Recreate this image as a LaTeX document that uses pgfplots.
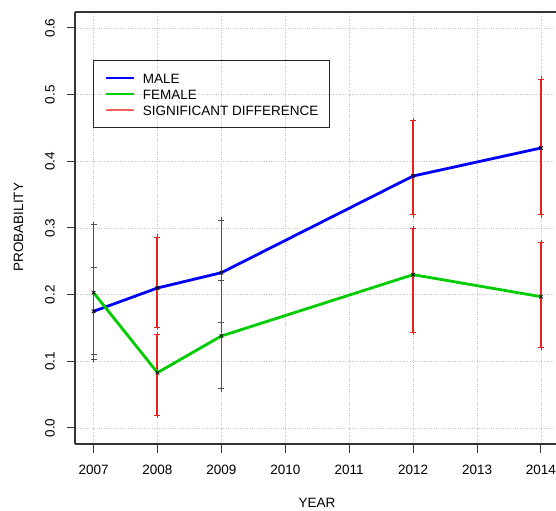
\documentclass[border=0pt]{standalone}
\usepackage{pgfplots}
\pgfplotsset{compat=1.18}
\usepackage{fontspec}
\setmainfont{Liberation Sans}
\definecolor{rblue}{RGB}{0,0,255}
\definecolor{rgreen}{RGB}{0,205,0}
\definecolor{rred}{RGB}{238,30,30}
\definecolor{cigrey}{RGB}{80,80,80}
\pgfplotsset{
  cibar/.style={line width=1.1bp, mark=+, mark size=3bp,
    mark options={line width=0.9bp}, forget plot},
  cinotsig/.style={cibar, color=cigrey},
  cisig/.style={cibar, color=rred, line width=2bp},
}
\begin{document}
\begin{tikzpicture}
\begin{axis}[
  set layers=standard,
  scale only axis, width=481bp, height=432bp,
  xmin=2006.71, xmax=2014.235, ymin=-0.024, ymax=0.624,
  axis x line*=box, axis y line*=left,
  axis line style={black!80, line width=1.1bp},
  xtick={2007,2008,2009,2010,2011,2012,2013,2014},
  xticklabels={2007,2008,2009,2010,2011,2012,2013,2014},
  ytick={0,0.1,0.2,0.3,0.4,0.5,0.6},
  yticklabels={0.0,0.1,0.2,0.3,0.4,0.5,0.6},
  xtick pos=left, ytick pos=left,
  tick align=outside, major tick length=8.5bp,
  tick style={black!80, line width=1bp},
  grid=major, major grid style={black!22, dotted, line width=0.8bp},
  font=\fontsize{13.5bp}{16bp}\selectfont,
  yticklabel style={rotate=90, anchor=south, inner xsep=0pt, inner ysep=11.5bp},
  xticklabel style={anchor=north, inner xsep=0pt, inner ysep=12.5bp},
  xlabel={YEAR}, ylabel={PROBABILITY},
  xlabel style={at={(axis description cs:0.503,-0.1366)}, anchor=center, inner sep=0pt},
  ylabel style={at={(axis description cs:-0.1177,0.502)}, anchor=center, inner sep=0pt},
  legend style={at={(axis description cs:0.0374,0.8889)}, anchor=north west,
    draw=black!85, line width=1.1bp, fill=none,
    inner xsep=11.5bp, inner ysep=12.5bp, row sep=6bp, column sep=7bp,
    nodes={inner sep=0pt, text height=10bp, text depth=0pt},
    font=\fontsize{13.5bp}{16bp}\selectfont},
  legend cell align=left,
  legend image code/.code={\draw[#1] (0bp,0bp) -- (28bp,0bp);},
]
% confidence intervals: grey where the sexes overlap, red where they differ
\addplot[cinotsig] coordinates {(2007,0.111) (2007,0.241)};
\addplot[cinotsig] coordinates {(2007,0.103) (2007,0.305)};
\addplot[cisig]    coordinates {(2008,0.151) (2008,0.286)};
\addplot[cisig]    coordinates {(2008,0.019) (2008,0.140)};
\addplot[cinotsig] coordinates {(2009,0.158) (2009,0.312)};
\addplot[cinotsig] coordinates {(2009,0.059) (2009,0.222)};
\addplot[cisig]    coordinates {(2012,0.320) (2012,0.461)};
\addplot[cisig]    coordinates {(2012,0.144) (2012,0.299)};
\addplot[cisig]    coordinates {(2014,0.320) (2014,0.523)};
\addplot[cisig]    coordinates {(2014,0.121) (2014,0.278)};

% estimated probabilities
\addplot[rblue, line width=2.8bp, mark=x, mark size=2.5bp,
  mark options={black, line width=0.8bp, solid}, forget plot]
  coordinates {(2007,0.175) (2008,0.210) (2009,0.233) (2012,0.378) (2014,0.420)};
\addplot[rgreen, line width=2.8bp, mark=x, mark size=2.5bp,
  mark options={black, line width=0.8bp, solid}, forget plot]
  coordinates {(2007,0.203) (2008,0.083) (2009,0.138) (2012,0.230) (2014,0.197)};

\addlegendimage{rblue, line width=2.8bp}
\addlegendentry{MALE}
\addlegendimage{rgreen, line width=2.8bp}
\addlegendentry{FEMALE}
\addlegendimage{rred!70, line width=1.2bp}
\addlegendentry{SIGNIFICANT DIFFERENCE}

\coordinate (bb1) at (rel axis cs:0,0);
\coordinate (bb2) at (rel axis cs:1,1);
\end{axis}
\pgfresetboundingbox
\path[use as bounding box] ([shift={(-75bp,-67bp)}]bb1) rectangle ([shift={(0bp,12bp)}]bb2);
\end{tikzpicture}
\end{document}
